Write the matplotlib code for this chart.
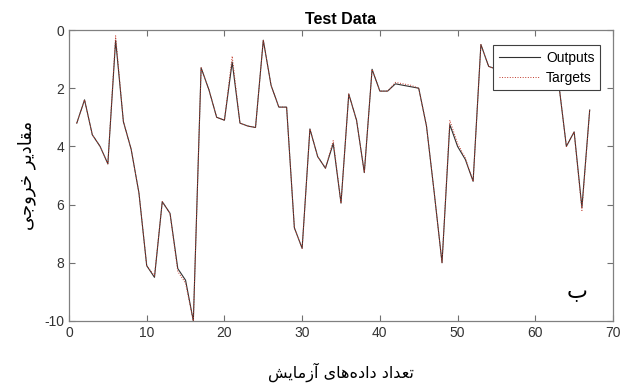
import matplotlib
matplotlib.use("Agg")
import matplotlib.pyplot as plt

# test data (index 1..67)
sample_idx = list(range(1, 68))
outputs = [-3.2, -2.4, -3.6, -4.0, -4.6, -0.35, -3.15, -4.1, -5.6, -8.1,
           -8.5, -5.9, -6.3, -8.2, -8.6, -10.0, -1.3, -2.05, -3.0, -3.1,
           -1.1, -3.2, -3.3, -3.35, -0.35, -1.9, -2.65, -2.65, -6.8, -7.5,
           -3.4, -4.35, -4.75, -3.9, -5.95, -2.2, -3.1, -4.9, -1.35, -2.1,
           -2.1, -1.85, -1.9, -1.95, -2.0, -3.3, -5.6, -8.0, -3.25, -4.0,
           -4.45, -5.2, -0.5, -1.25, -1.35, -1.4, -1.45, -1.5, -1.5, -1.55,
           -1.6, -1.65, -1.8, -4.0, -3.5, -6.1, -2.75]
targets = [-3.2, -2.4, -3.6, -4.0, -4.6, -0.2, -3.15, -4.1, -5.6, -8.1,
           -8.45, -5.9, -6.3, -8.3, -8.7, -10.0, -1.3, -2.05, -3.0, -3.1,
           -0.9, -3.2, -3.3, -3.35, -0.35, -1.9, -2.65, -2.65, -6.8, -7.5,
           -3.4, -4.35, -4.75, -3.8, -5.95, -2.2, -3.1, -4.9, -1.35, -2.1,
           -2.1, -1.8, -1.85, -1.9, -2.0, -3.3, -5.6, -8.0, -3.1, -3.9,
           -4.4, -5.2, -0.5, -1.25, -1.35, -1.4, -1.45, -1.5, -1.5, -1.55,
           -1.6, -1.65, -1.8, -4.0, -3.5, -6.2, -2.75]

x_ticks = [0, 10, 20, 30, 40, 50, 60, 70]
y_ticks = [0, -2, -4, -6, -8, -10]
y_tick_labels = ["0", "2", "4", "6", "8", "-10"]

title = "Test Data"
x_label = "تعداد داده‌های آزمایش"
y_label = "مقادیر خروجی"
panel_tag = "ب"

# matplotlib has no Arabic shaping: map letters to presentation forms by hand
# (isolated, final, initial, medial); right-joining letters only have 2 forms
FORMS = {
    "ا": ("\uFE8D", "\uFE8E"), "آ": ("\uFE81", "\uFE82"),
    "د": ("\uFEA9", "\uFEAA"), "ر": ("\uFEAD", "\uFEAE"),
    "ز": ("\uFEAF", "\uFEB0"), "و": ("\uFEED", "\uFEEE"),
    "ب": ("\uFE8F", "\uFE90", "\uFE91", "\uFE92"),
    "ت": ("\uFE95", "\uFE96", "\uFE97", "\uFE98"),
    "ج": ("\uFE9D", "\uFE9E", "\uFE9F", "\uFEA0"),
    "خ": ("\uFEA5", "\uFEA6", "\uFEA7", "\uFEA8"),
    "ش": ("\uFEB5", "\uFEB6", "\uFEB7", "\uFEB8"),
    "ع": ("\uFEC9", "\uFECA", "\uFECB", "\uFECC"),
    "ق": ("\uFED5", "\uFED6", "\uFED7", "\uFED8"),
    "م": ("\uFEE1", "\uFEE2", "\uFEE3", "\uFEE4"),
    "ه": ("\uFEE9", "\uFEEA", "\uFEEB", "\uFEEC"),
    "ی": ("\uFBFC", "\uFBFD", "\uFBFE", "\uFBFF"),
}


def shape_rtl(text):
    out = []
    for i, ch in enumerate(text):
        if ch not in FORMS:
            if ch != "\u200c":
                out.append(ch)
            continue
        prev = text[i - 1] if i > 0 else ""
        nxt = text[i + 1] if i + 1 < len(text) else ""
        join_prev = prev in FORMS and len(FORMS[prev]) == 4
        join_next = len(FORMS[ch]) == 4 and nxt in FORMS
        f = FORMS[ch]
        if join_prev and join_next:
            out.append(f[3])
        elif join_prev:
            out.append(f[1])
        elif join_next:
            out.append(f[2])
        else:
            out.append(f[0])
    return "".join(reversed(out))


plt.rcParams["font.family"] = ["Liberation Sans", "DejaVu Sans"]

fig = plt.figure(figsize=(6.21, 3.89), dpi=100)
ax = fig.add_axes([69 / 621, 1 - 321 / 389, 544 / 621, 291 / 389])

ax.plot(sample_idx, outputs, color="#303030", linewidth=0.8, label="Outputs")
ax.plot(sample_idx, targets, color="#c0392b", linewidth=0.7, linestyle=":", label="Targets")

ax.set_xlim(0, 70)
ax.set_ylim(-10, 0)
ax.set_xticks(x_ticks)
ax.set_yticks(y_ticks)
ax.set_yticklabels(y_tick_labels)
ax.tick_params(direction="in", top=True, right=True, length=4, width=0.8,
               colors="#707070", labelcolor="#333333", labelsize=10)
for sp in ax.spines.values():
    sp.set_color("#808080")
    sp.set_linewidth(0.9)

ax.set_title(title, fontsize=11.5, fontweight="bold", pad=4)
fig.text(27 / 621, 1 - 175 / 389, shape_rtl(y_label), rotation=90,
         ha="center", va="center", fontsize=13, family=["DejaVu Sans"])
fig.text(341 / 621, 1 - 372 / 389, shape_rtl(x_label), ha="center", va="center",
         fontsize=11.5, family=["DejaVu Sans"])
ax.text(65.4, -9.0, shape_rtl(panel_tag), ha="center", va="center",
        fontsize=16, family=["DejaVu Sans"])

leg = ax.legend(loc="upper right", bbox_to_anchor=(0.976, 0.948), borderaxespad=0,
                fontsize=10, handlelength=3.0, fancybox=False, framealpha=1,
                edgecolor="#404040", borderpad=0.4, labelspacing=0.45, handletextpad=0.4)
leg.get_frame().set_linewidth(0.8)

fig.savefig("out.png", dpi=100)
